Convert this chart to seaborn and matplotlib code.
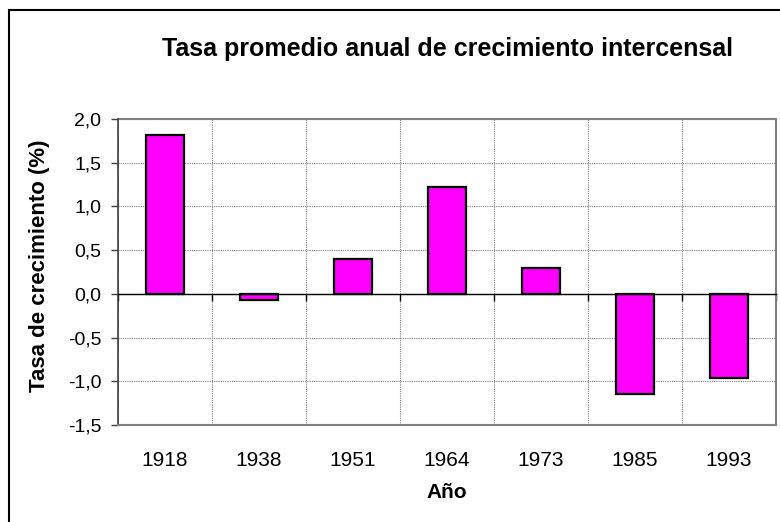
import numpy as np
import pandas as pd
import matplotlib
matplotlib.use("Agg")
import matplotlib.pyplot as plt
from matplotlib.patches import Rectangle
from matplotlib.ticker import FuncFormatter
import seaborn as sns

# === data ===
years = ["1918", "1938", "1951", "1964", "1973", "1985", "1993"]
growth = [1.82, -0.07, 0.40, 1.22, 0.30, -1.14, -0.96]
yticks = [-1.5, -1.0, -0.5, 0.0, 0.5, 1.0, 1.5, 2.0]

df = pd.DataFrame({"Año": years, "Tasa": growth})

# === style ===
sns.set_style("white")
plt.rcParams["font.family"] = ["Liberation Sans", "DejaVu Sans"]
plt.rcParams["text.color"] = "black"
plt.rcParams["axes.labelcolor"] = "black"
plt.rcParams["xtick.labelcolor"] = "black"
plt.rcParams["ytick.labelcolor"] = "black"

fig = plt.figure(figsize=(7.8, 5.22), dpi=100)
ax = fig.add_axes([118 / 780, 1 - 425 / 522, 658 / 780, 306 / 522])

sns.barplot(data=df, x="Año", y="Tasa", color="#FF00FF", saturation=1,
            edgecolor="black", linewidth=1.6, width=0.4, ax=ax)

ax.set_xlim(-0.5, len(years) - 0.5)
ax.set_ylim(yticks[0], yticks[-1])
ax.set_yticks(yticks)
ax.yaxis.set_major_formatter(FuncFormatter(lambda v, p: f"{v:.1f}".replace(".", ",")))

# grid: horizontal at each tick, vertical between categories
ax.set_xticks(np.arange(-0.5, len(years)), minor=True)
ax.grid(True, axis="y", which="major", color="#808080", linestyle=(0, (1, 1)), linewidth=0.8)
ax.grid(True, axis="x", which="minor", color="#808080", linestyle=(0, (1, 1)), linewidth=0.8)
ax.set_axisbelow(True)

# zero line with tick marks (top spine moved to 0)
ax.spines["top"].set_position(("data", 0))
ax.spines["top"].set_color("black")
ax.spines["top"].set_linewidth(1.0)
ax.tick_params(axis="x", which="minor", top=True, bottom=False, direction="in",
               length=5, width=1, color="black", labeltop=False)
ax.tick_params(axis="x", which="major", length=0, pad=19, labelsize=15)
ax.tick_params(axis="y", which="major", left=True, direction="out", length=5,
               width=1, color="#404040", pad=7, labelsize=14)

for side in ["left", "bottom", "right"]:
    ax.spines[side].set_visible(True)
    ax.spines[side].set_color("#808080")
    ax.spines[side].set_linewidth(1.5)
ax.spines["left"].set_color("#404040")
ax.spines["left"].set_linewidth(1.2)
ax.axhline(yticks[-1], color="#808080", linewidth=1.5, clip_on=False)

ax.set_xlabel("Año", fontsize=15, fontweight="bold")
ax.xaxis.label.set_va("baseline")
ax.xaxis.set_label_coords(0.5, (425 - 498) / 306)
ax.set_ylabel("Tasa de crecimiento (%)", fontsize=16, fontweight="bold")
ax.yaxis.set_label_coords((50 - 118) / 658, 0.52)

fig.text(448 / 780, 1 - 56 / 522, "Tasa promedio anual de crecimiento intercensal",
         ha="center", va="baseline", fontsize=18, fontweight="bold")

# outer chart border
fig.patches.append(Rectangle((9 / 780, -0.1), 1.2, 1 - 10 / 522 + 0.1,
                             transform=fig.transFigure, fill=False,
                             edgecolor="black", linewidth=1.5))

fig.savefig("out.png", dpi=100)
